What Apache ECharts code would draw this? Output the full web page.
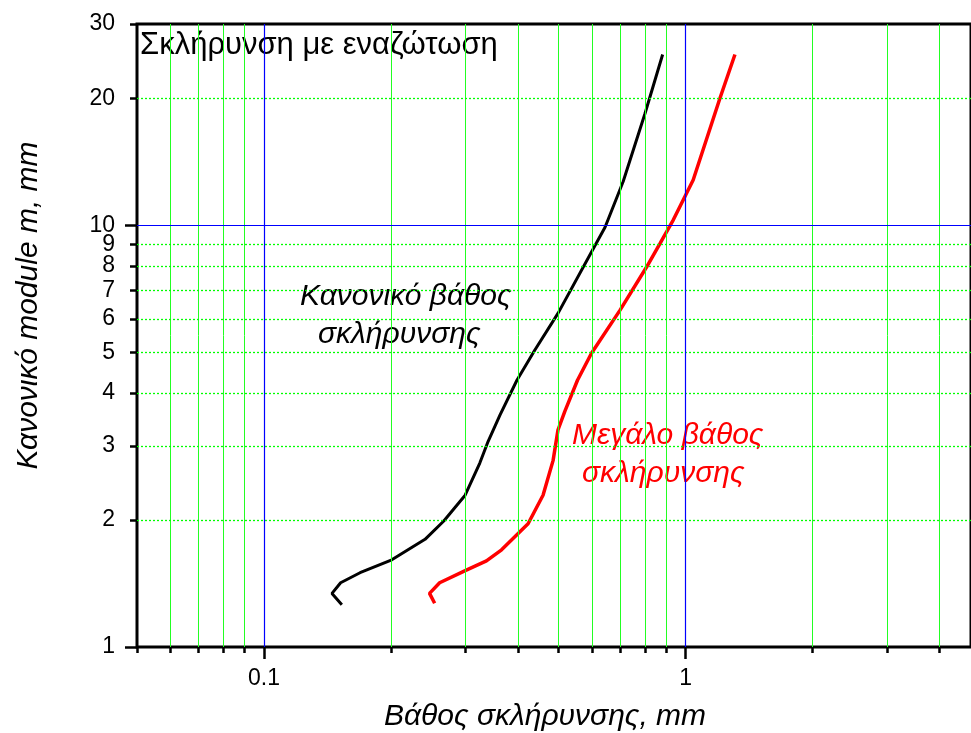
<!DOCTYPE html>
<html>
<head>
<meta charset="utf-8">
<title>Σκλήρυνση με εναζώτωση</title>
<script src="https://cdn.jsdelivr.net/npm/echarts@6/dist/echarts.min.js"></script>
<style>
  html, body { margin: 0; padding: 0; background: #fff; }
  #chart { width: 971px; height: 733px; }
</style>
</head>
<body>
<div id="chart"></div>
<script>
// Κανονικό βάθος σκλήρυνσης (black)
const normalDepth = [0.153, 0.145, 0.152, 0.169, 0.201, 0.241, 0.267, 0.300, 0.325, 0.340, 0.363, 0.398, 0.439, 0.498, 0.598, 0.644, 0.711, 0.801, 0.882]
const normalModule = [1.26, 1.34, 1.42, 1.50, 1.61, 1.80, 1.99, 2.29, 2.73, 3.07, 3.55, 4.29, 5.06, 6.18, 8.64, 9.89, 12.7, 18.4, 25.4]
// Μεγάλο βάθος σκλήρυνσης (red)
const largeDepth = [0.254, 0.247, 0.261, 0.301, 0.337, 0.366, 0.423, 0.459, 0.485, 0.498, 0.517, 0.554, 0.598, 0.699, 0.808, 0.869, 0.935, 1.042, 1.206, 1.309]
const largeModule = [1.27, 1.34, 1.42, 1.52, 1.60, 1.70, 1.96, 2.29, 2.77, 3.27, 3.62, 4.29, 4.97, 6.29, 7.96, 9.05, 10.3, 12.8, 20.0, 25.4]

// ticks / labels
const xMinorTicks = [0.05, 0.06, 0.07, 0.08, 0.09, 0.2, 0.3, 0.4, 0.5, 0.6, 0.7, 0.8, 0.9, 2, 3, 4]
const xMajorTicks = [0.1, 1]
const yMinorTicks = [2, 3, 4, 5, 6, 7, 8, 9, 20, 30]
const yMajorTicks = [1, 10]
const yLabels = [1, 2, 3, 4, 5, 6, 7, 8, 9, 10, 20, 30]
const xGreen = [0.06, 0.07, 0.08, 0.09, 0.2, 0.3, 0.4, 0.5, 0.6, 0.7, 0.8, 0.9, 2, 3, 4]
const yGreen = [2, 3, 4, 5, 6, 7, 8, 9, 20]
const xBlue = [0.1, 1]
const yBlue = [10]

const FONT = 'Liberation Sans, Arial, sans-serif'
const fmt = (v) => String(+Number(v).toPrecision(3))

const pairs = (xs, ys) => xs.map((x, i) => [x, ys[i]])

const gridLines = []
xGreen.forEach((v) => gridLines.push({ xAxis: v, lineStyle: { color: '#22ff22', width: 1, type: 'solid' } }))
yGreen.forEach((v) => gridLines.push({ yAxis: v, lineStyle: { color: '#00ff00', width: 1.3, type: [2, 2] } }))
xBlue.forEach((v) => gridLines.push({ xAxis: v, lineStyle: { color: '#0000ff', width: 1.2, type: 'solid' } }))
yBlue.forEach((v) => gridLines.push({ yAxis: v, lineStyle: { color: '#0000ff', width: 1.2, type: 'solid' } }))

// right edge of the window falls at ~4.75 mm
const xBase = {
  type: 'log',
  logBase: 10,
  min: 0.05,
  max: 4.75,
  position: 'bottom',
  axisLine: { show: false, onZero: false },
  splitLine: { show: false },
  minorTick: { show: false }
}
const yBase = {
  type: 'log',
  logBase: 10,
  min: 1,
  max: 30,
  position: 'left',
  axisLine: { show: false, onZero: false },
  splitLine: { show: false },
  minorTick: { show: false }
}

const myChart = echarts.init(document.getElementById('chart'))
myChart.setOption({
  animation: false,
  backgroundColor: '#fff',
  textStyle: { fontFamily: FONT },
  grid: {
    left: 137,
    top: 24,
    right: 0,
    bottom: 86,
    outerBoundsMode: 'none',
    containLabel: false,
    show: true,
    borderColor: '#000',
    borderWidth: 3,
    backgroundColor: 'transparent'
  },
  xAxis: [
    Object.assign({}, xBase, {
      axisTick: { show: true, inside: false, length: 6, customValues: xMinorTicks, lineStyle: { color: '#000', width: 2.5 } },
      axisLabel: { show: false },
      name: 'Βάθος σκλήρυνσης, mm',
      nameLocation: 'middle',
      nameGap: 55,
      nameTextStyle: { fontSize: 30, fontStyle: 'italic', color: '#000', fontFamily: FONT, padding: [0, 18, 0, 0] }
    }),
    Object.assign({}, xBase, {
      axisTick: { show: true, inside: false, length: 12, customValues: xMajorTicks, lineStyle: { color: '#000', width: 2.5 } },
      axisLabel: { show: true, customValues: xMajorTicks, formatter: fmt, fontSize: 23, color: '#000', margin: 20, fontFamily: FONT }
    })
  ],
  yAxis: [
    Object.assign({}, yBase, {
      axisTick: { show: true, inside: false, length: 7, customValues: yMinorTicks, lineStyle: { color: '#000', width: 2.5 } },
      axisLabel: { show: true, customValues: yLabels, formatter: fmt, fontSize: 23, color: '#000', margin: 22, fontFamily: FONT },
      name: 'Κανονικό module m, mm',
      nameLocation: 'middle',
      nameGap: 93,
      nameTextStyle: { fontSize: 30, fontStyle: 'italic', color: '#000', fontFamily: FONT, padding: [0, 0, 0, 60] }
    }),
    Object.assign({}, yBase, {
      axisTick: { show: true, inside: false, length: 12, customValues: yMajorTicks, lineStyle: { color: '#000', width: 2.5 } },
      axisLabel: { show: false }
    })
  ],
  series: [
    {
      // grid lines only
      type: 'line',
      data: [],
      z: 1,
      silent: true,
      markLine: {
        silent: true,
        symbol: 'none',
        label: { show: false },
        animation: false,
        data: gridLines
      }
    },
    {
      name: 'Κανονικό βάθος σκλήρυνσης',
      type: 'line',
      z: 3,
      data: pairs(normalDepth, normalModule),
      showSymbol: false,
      smooth: false,
      lineStyle: { color: '#000', width: 3 }
    },
    {
      name: 'Μεγάλο βάθος σκλήρυνσης',
      type: 'line',
      z: 3,
      data: pairs(largeDepth, largeModule),
      showSymbol: false,
      smooth: false,
      lineStyle: { color: '#ff0000', width: 3.5 }
    }
  ],
  graphic: [
    {
      type: 'text',
      left: 140,
      top: 30,
      style: { text: 'Σκλήρυνση με εναζώτωση', font: '31px ' + FONT, fill: '#000' }
    },
    {
      type: 'text',
      left: 300,
      top: 282,
      style: { text: 'Κανονικό βάθος', font: 'italic 30px ' + FONT, fill: '#000' }
    },
    {
      type: 'text',
      left: 318,
      top: 320,
      style: { text: 'σκλήρυνσης', font: 'italic 30px ' + FONT, fill: '#000' }
    },
    {
      type: 'text',
      left: 572,
      top: 421,
      style: { text: 'Μεγάλο βάθος', font: 'italic 30px ' + FONT, fill: '#ff0000' }
    },
    {
      type: 'text',
      left: 582,
      top: 459,
      style: { text: 'σκλήρυνσης', font: 'italic 30px ' + FONT, fill: '#ff0000' }
    }
  ]
})
</script>
</body>
</html>
